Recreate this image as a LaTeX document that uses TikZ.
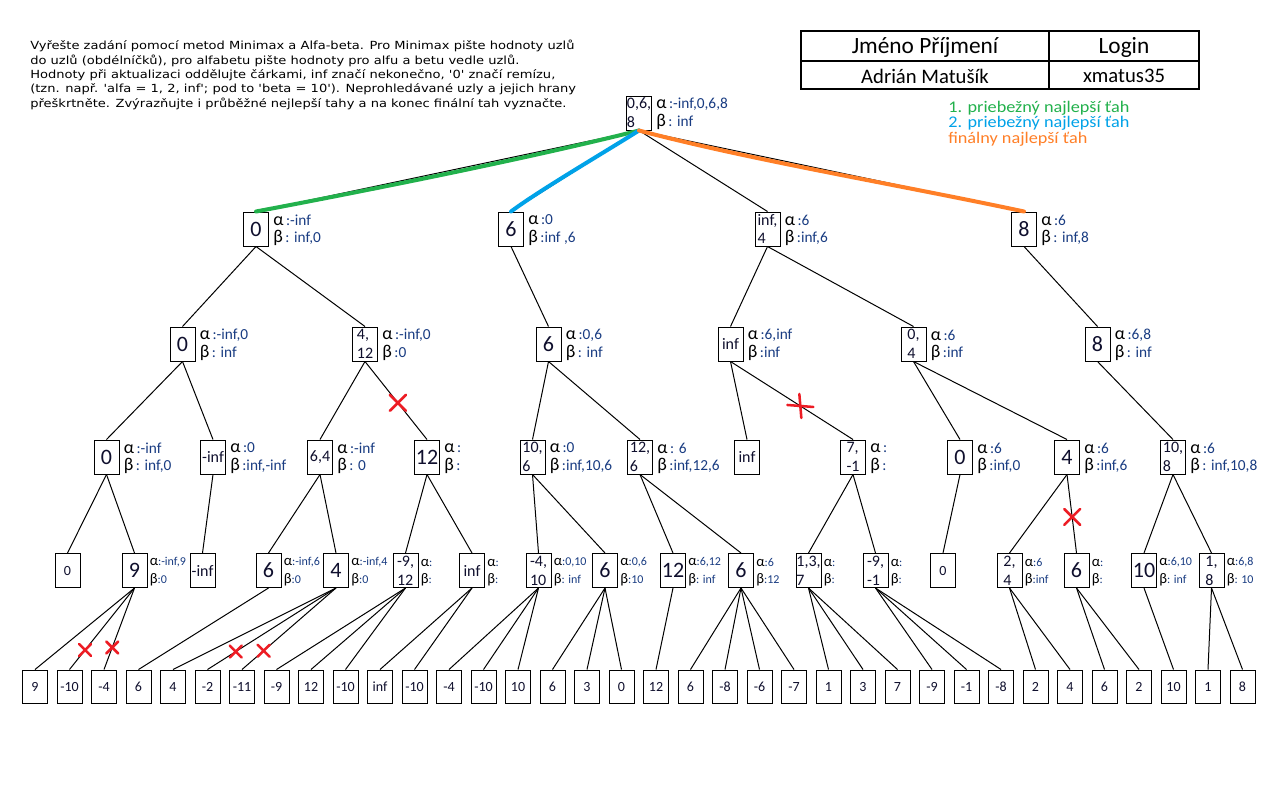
\documentclass[tikz,border=0pt]{standalone}
\usepackage{fontspec}
\setmainfont{Carlito}
\newfontfamily\instrfont{DejaVu Sans}[Ligatures=TeXOff, FakeStretch=1.165]
\newfontfamily\legfont{Carlito}[FakeStretch=1.12]
\usetikzlibrary{calc}
\definecolor{valcol}{RGB}{15,15,45}
\definecolor{labcol}{RGB}{25,60,130}
\definecolor{pgreen}{RGB}{34,177,76}
\definecolor{pblue}{RGB}{0,162,232}
\definecolor{porange}{RGB}{255,127,39}
\definecolor{pred}{RGB}{237,28,36}

\tikzset{
  nbox/.style={draw, line width=0.75pt, minimum width=18.75pt, minimum height=25.5pt,
    inner sep=0pt, text=valcol, align=left},
  vbig/.style={nbox, font=\fontsize{16.5}{16}\selectfont},
  vtwo/.style={nbox, font=\fontsize{12}{14.2}\selectfont},
  vmid/.style={nbox, font=\fontsize{12}{13}\selectfont},
  vsmall/.style={nbox, font=\fontsize{10.5}{12}\selectfont},
  leafbox/.style={nbox, minimum height=24.75pt, font=\fontsize{10.5}{12}\selectfont},
  lnk/.style={line width=0.75pt},
  lab/.style={inner sep=0pt, anchor=west, text=labcol, font=\fontsize{11.5}{12}\selectfont},
  smlab/.style={lab, font=\fontsize{9}{10}\selectfont},
  redx/.style={pred, line width=1.9pt, line cap=round},
  best/.style={line width=3pt, line cap=round},
}

% Greek letter in front of an alpha/beta list
\newcommand\gk[1]{{\color{black}\fontsize{13.5}{13}\selectfont #1}\,}
\newcommand\gks[1]{{\color{black}\fontsize{11}{11}\selectfont #1}}
% alpha and beta lists to the right of a node
\newcommand\ab[3]{%
  \node[lab] (#1-al) at ($(#1.east)+(4,-9)$) {\gk{α}:#2};
  \node[lab] (#1-be) at ($(#1.east)+(4,9)$) {\gk{β}:#3};}
% the same, set smaller for the lowest inner level
\newcommand\abs[3]{%
  \node[smlab] (#1-al) at ($(#1.east)+(2,-8)$) {\gks{α}:#2};
  \node[smlab] (#1-be) at ($(#1.east)+(2,9)$) {\gks{β}:#3};}
% red strike mark
\newcommand\strike[2][7]{%
  \draw[redx] ($(#2)+(-#1,-#1)$) -- ($(#2)+(#1,#1)$) ($(#2)+(-#1,#1)$) -- ($(#2)+(#1,-#1)$);}

\begin{document}
\begin{tikzpicture}[x=0.75pt,y=-0.75pt]
\fill[white] (0,0) rectangle (1280,800);
\useasboundingbox (0,0) rectangle (1280,800);

% task text
\node[anchor=north west, inner sep=0pt, align=left,
      font=\instrfont\fontsize{8.4}{10.8}\selectfont] (task) at (30,40)
 {Vyřešte zadání pomocí metod Minimax a Alfa-beta. Pro Minimax pište hodnoty uzlů\\
  do uzlů (obdélníčků), pro alfabetu pište hodnoty pro alfu a betu vedle uzlů.\\
  Hodnoty při aktualizaci oddělujte čárkami, inf značí nekonečno, '0' značí remízu,\\
  (tzn. např. 'alfa = 1, 2, inf'; pod to 'beta = 10'). Neprohledávané uzly a jejich hrany\\
  přeškrtněte. Zvýrazňujte i průběžné nejlepší tahy a na konec finální tah vyznačte.};

% name table
\draw[line width=1.5pt] (801,31) rectangle (1199,89);
\draw[line width=1.5pt] (1049,31) -- (1049,89);
\draw[line width=1.5pt] (801,61) -- (1199,61);
\node[font=\fontsize{17.5}{18}\selectfont] (hname) at (925,47) {Jméno Příjmení};
\node[font=\fontsize{17.5}{18}\selectfont] (hlogin) at (1124,47) {Login};
\node[font=\fontsize{15.5}{16}\selectfont] (vname) at (925,76) {Adrián Matušík};
\node[font=\fontsize{15.5}{16}\selectfont] (vlogin) at (1124,76) {xmatus35};

% legend
\tikzset{legtxt/.style={anchor=west, inner sep=0pt, font=\legfont\fontsize{12.2}{13}\selectfont}}
\node[legtxt, text=pgreen] (leg1) at (948,108) {1. priebežný najlepší ťah};
\node[legtxt, text=pblue] (leg2) at (948,123.5) {2. priebežný najlepší ťah};
\node[legtxt, text=porange] (leg3) at (948,139) {finálny najlepší ťah};

% root and level 1
\node[vtwo] (root) at (639,113) {0,6,\\8};
\node[vbig] (A) at (256,229) {0};
\node[vbig] (B) at (511,229) {6};
\node[vtwo] (C) at (767.5,229) {inf,\\4};
\node[vbig] (D) at (1024,229) {8};

% level 2
\node[vbig] (A1) at (182.5,344) {0};
\node[vtwo] (A2) at (365,344) {4,\\12};
\node[vbig] (B1) at (548.5,344) {6};
\node[vmid] (C1) at (730.5,344) {inf};
\node[vtwo] (C2) at (913.5,344) {0,\\4};
\node[vbig] (D1) at (1097.5,344) {8};

% level 3
\node[vbig] (A1a) at (106.5,457) {0};
\node[vmid] (A1b) at (213,457) {-inf};
\node[vmid] (A2a) at (320,457) {6,4};
\node[vbig] (A2b) at (427,457) {12};
\node[vtwo] (B1a) at (532.5,457) {10,\\6};
\node[vtwo] (B1b) at (640,457) {12,\\6};
\node[vmid] (C1a) at (747,457) {inf};
\node[vtwo] (C1b) at (853,457) {7,\\-1};
\node[vbig] (C2a) at (960,457) {0};
\node[vbig] (C2b) at (1067,457) {4};
\node[vtwo] (D1a) at (1173,457) {10,\\8};

% level 4
\node[vsmall] (u1) at (67.5,570.5) {0};
\node[vbig] (u2) at (134.5,570.5) {9};
\node[vmid] (u3) at (202.5,570.5) {-inf};
\node[vbig] (u4) at (268.5,570.5) {6};
\node[vbig] (u5) at (336,570.5) {4};
\node[vtwo] (u6) at (405.5,570.5) {-9,\\12};
\node[vmid] (u7) at (472,570.5) {inf};
\node[vtwo] (u8) at (538.5,570.5) {-4,\\10};
\node[vbig] (u9) at (605,570.5) {6};
\node[vbig] (u10) at (673,570.5) {12};
\node[vbig] (u11) at (741,570.5) {6};
\node[vtwo] (u12) at (808.5,570.5) {1,3,\\7};
\node[vtwo] (u13) at (875.5,570.5) {-9,\\-1};
\node[vsmall] (u14) at (943,570.5) {0};
\node[vtwo] (u15) at (1009.5,570.5) {2,\\4};
\node[vbig] (u16) at (1076.5,570.5) {6};
\node[vbig] (u17) at (1144,570.5) {10};
\node[vtwo] (u18) at (1211.5,570.5) {1,\\8};

% leaves
\foreach \v [count=\i from 0] in {9,-10,-4,6,4,-2,-11,-9,12,-10,inf,-10,-4,-10,10,6,3,0,
    12,6,-8,-6,-7,1,3,7,-9,-1,-8,2,4,6,2,10,1,8}
  \node[leafbox] (L\i) at ({35+34.5*\i},686.5) {\v};

% connectors
\foreach \c in {A,B,C,D} \draw[lnk] (root.south) -- (\c.north);
\foreach \p/\c in {A/A1,A/A2,B/B1,C/C1,C/C2,D/D1,
    A1/A1a,A1/A1b,A2/A2a,B1/B1a,B1/B1b,C1/C1a,C2/C2a,C2/C2b,D1/D1a,
    A1a/u1,A1a/u2,A1b/u3,A2a/u4,A2a/u5,A2b/u6,A2b/u7,B1a/u8,B1a/u9,B1b/u10,B1b/u11,
    C1b/u12,C1b/u13,C2a/u14,C2b/u15,D1a/u17,D1a/u18}
  \draw[lnk] (\p.south) -- (\c.north);
\foreach \p/\c in {u2/0,u4/3,u5/4,u6/7,u6/8,u6/9,u7/10,u7/11,u8/12,u8/13,u8/14,
    u9/15,u9/16,u9/17,u10/18,u11/19,u11/20,u11/21,u11/22,u12/23,u12/24,u12/25,
    u13/26,u13/27,u13/28,u15/29,u15/30,u16/31,u16/32,u17/33,u18/34,u18/35}
  \draw[lnk] (\p.south) -- (L\c.north);

% pruned connectors
\draw[lnk] (A2.south) -- (A2b.north) coordinate[pos=0.53] (x1);
\draw[lnk] (C1.south) -- (C1b.north) coordinate[pos=0.57] (x2);
\draw[lnk] (C2b.south) -- (u16.north) coordinate[pos=0.54] (x3);
\draw[lnk] (u2.south) -- (L1.north) coordinate[pos=0.76] (x4);
\draw[lnk] (u2.south) -- (L2.north) coordinate[pos=0.73] (x5);
\draw[lnk] (u5.south) -- (L5.north) coordinate[pos=0.78] (x6);
\draw[lnk] (u5.south) -- (L6.north) coordinate[pos=0.77] (x7);

\strike[8]{x1}
\draw[redx] ($(x2)+(-13,-1)$) -- ($(x2)+(13,1)$) ($(x2)+(-1,-12)$) -- ($(x2)+(1,12)$);
\strike[8]{x3}
\strike[6]{x4}
\strike[6]{x5}
\strike[6]{x6}
\strike[6]{x7}

% best moves
\draw[best, pgreen] (root.south) .. controls (530,158) and (370,190) .. (A.north);
\draw[best, pblue] (root.south) .. controls (600,155) and (540,190) .. (B.north);
\draw[best, porange] (root.south) .. controls (750,160) and (900,185) .. (D.north);

% alpha / beta lists
\ab{root}{-inf,0,6,8}{ inf}
\ab{A}{-inf}{ inf,0}
\ab{B}{0}{inf ,6}
\ab{C}{6}{inf,6}
\ab{D}{6}{ inf,8}
\ab{A1}{-inf,0}{ inf}
\ab{A2}{-inf,0}{0}
\ab{B1}{0,6}{ inf}
\ab{C1}{6,inf}{inf}
\ab{C2}{6}{inf}
\ab{D1}{6,8}{ inf}
\ab{A1a}{-inf}{ inf,0}
\ab{A1b}{0}{inf,-inf}
\ab{A2a}{-inf}{ 0}
\ab{A2b}{}{}
\ab{B1a}{0}{inf,10,6}
\ab{B1b}{ 6}{inf,12,6}
\ab{C1b}{}{}
\ab{C2a}{6}{inf,0}
\ab{C2b}{6}{inf,6}
\ab{D1a}{6}{ inf,10,8}
\abs{u2}{-inf,9}{0}
\abs{u4}{-inf,6}{0}
\abs{u5}{-inf,4}{0}
\abs{u6}{}{}
\abs{u7}{}{}
\abs{u8}{0,10}{ inf}
\abs{u9}{0,6}{10}
\abs{u10}{6,12}{ inf}
\abs{u11}{6}{12}
\abs{u12}{}{}
\abs{u13}{}{}
\abs{u15}{6}{inf}
\abs{u16}{}{}
\abs{u17}{6,10}{ inf}
\abs{u18}{6,8}{ 10}
\end{tikzpicture}
\end{document}
